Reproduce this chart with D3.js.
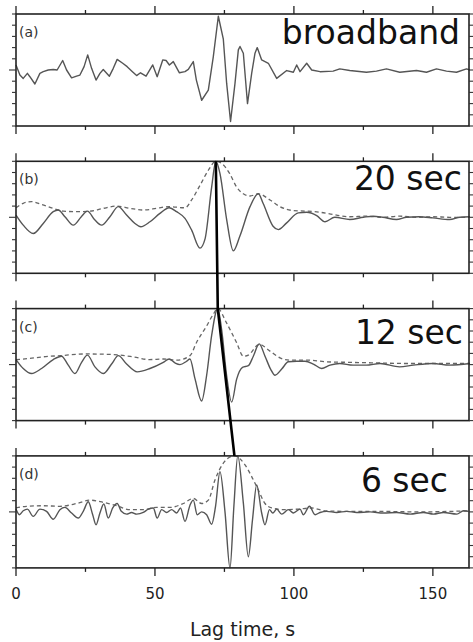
<!DOCTYPE html>
<html>
<head>
<meta charset="utf-8">
<script src="https://cdn.jsdelivr.net/npm/d3@7"></script>
<style>
  body { margin: 0; background: #fff; }
  text { font-family: 'DejaVu Sans', sans-serif; }
</style>
</head>
<body>
<svg class="chart"></svg>
<script>
// lag time (s), normalised amplitude
const broadband = [
  [0, 0.09], [1.4, -0.09], [2.6, -0.15], [4.1, -0.06], [5, -0.12], [6.8, -0.25], [8.6, -0.06],
  [9.8, -0.03], [11.6, 0], [13.4, 0.01], [14.8, 0], [16.8, 0.17], [18.2, 0], [20, -0.14],
  [21.8, -0.11], [23, -0.09], [24.5, 0.06], [25.8, 0.27], [27.2, 0.03], [28.8, -0.18],
  [30.2, -0.06], [31.4, 0.01], [33.6, -0.11], [35, 0.03], [36.4, 0.19], [38.4, 0.12],
  [40, 0.06], [41.9, -0.03], [43.4, -0.1], [44.8, -0.05], [46.8, -0.11], [49.2, 0.09],
  [50.8, -0.12], [52.8, 0.18], [54, 0.17], [55.2, 0.09], [56.6, 0.15], [58.8, -0.05],
  [60.8, -0.03], [62, 0.01], [63.8, 0.15], [64.9, -0.18], [66.8, -0.54], [69.2, -0.36],
  [71, 0.24], [72.8, 0.96], [74.6, 0.55], [75.8, -0.24], [77.2, -0.92], [78.8, -0.24],
  [80, 0.36], [80.6, 0.42], [81.8, 0.3], [82.7, -0.24], [83.3, -0.6], [84.8, -0.06],
  [86, 0.3], [86.8, 0.4], [88.4, 0.18], [90.8, 0.12], [93.8, -0.15], [97.4, -0.01],
  [99.8, -0.04], [101, 0.09], [102.2, -0.03], [104.6, 0.12], [106.4, 0], [109.4, -0.03],
  [114.1, -0.02], [116.5, 0.02], [120.1, -0.01], [126.1, -0.04], [129.7, -0.02],
  [133.3, 0.02], [138.1, -0.04], [144.1, -0.01], [147.7, -0.04], [151.3, 0.02],
  [154.9, -0.02], [158.5, -0.04], [162.1, 0.02], [163.3, 0]
];

const band20 = [
  [0, 0.04], [2.6, -0.14], [6.2, -0.29], [9.8, -0.11], [13.4, 0.1], [15.2, 0.13], [17.6, 0.01],
  [20.6, -0.14], [23.5, 0.01], [25.7, 0.11], [28.4, -0.05], [30.8, -0.14], [33.8, 0.01],
  [36.8, 0.19], [39.8, 0.04], [42.8, -0.11], [44.9, -0.17], [48.2, -0.08], [51.8, 0.07],
  [55.1, 0.17], [57.8, 0.1], [60.8, -0.02], [63.2, -0.23], [66.2, -0.55], [68, -0.39],
  [70.4, 0.54], [71.9, 1.0], [73.4, 0.78], [75.8, -0.04], [78.2, -0.6], [80.6, -0.33],
  [84.2, 0.19], [87.2, 0.42], [88.9, 0.25], [92.5, -0.16], [94.4, -0.22], [97.4, -0.1],
  [101.6, 0.08], [104.6, 0.09], [108.2, 0.03], [111.2, -0.08], [114.7, 0], [120.1, -0.04],
  [125, 0], [128.5, 0.02], [132, 0], [136.9, -0.04], [140.5, 0], [145, 0.01], [150, -0.01],
  [156, -0.04], [159.7, 0], [163.3, 0.01]
];
const env20 = [
  [0, 0.17], [2.6, 0.25], [5.6, 0.28], [9.2, 0.23], [13.4, 0.16], [17, 0.11], [21.8, 0.1],
  [26.6, 0.11], [31.4, 0.16], [36.2, 0.2], [41, 0.16], [45.8, 0.13], [50.6, 0.16],
  [54.8, 0.19], [60.8, 0.17], [63.2, 0.31], [66.2, 0.57], [69.2, 0.84], [71.9, 1.0],
  [74.3, 0.95], [76.9, 0.78], [79.4, 0.54], [81.8, 0.42], [84.2, 0.38], [87.2, 0.42],
  [91.4, 0.31], [95, 0.19], [99.8, 0.12], [104.6, 0.11], [109.4, 0.09], [114.1, 0.05],
  [120.1, 0.01], [126, 0.02], [132, 0], [138, 0.02], [144, 0], [150, 0.01], [156, 0],
  [163.3, 0]
];

const band12 = [
  [0, 0.09], [2.6, -0.07], [5.6, -0.16], [9.2, -0.07], [13.4, 0.09], [16.4, 0.15], [18.8, -0.01],
  [21.2, -0.16], [23.6, 0.04], [25.7, 0.17], [28.4, -0.04], [31.4, -0.16], [34.4, 0.01],
  [36.8, 0.16], [39.8, 0.01], [43.6, -0.13], [48.2, -0.07], [53, 0.04], [55.1, 0.1],
  [57.2, 0.03], [59, 0], [61.4, 0.06], [62.6, 0.1], [64.4, -0.25], [66.8, -0.65],
  [68.6, -0.19], [70.4, 0.52], [72.6, 1.0], [74, 0.62], [75.8, -0.2], [77.6, -0.67],
  [79.4, -0.26], [81.5, -0.05], [83.6, -0.02], [85.4, 0.15], [87.5, 0.37], [89.6, 0.15],
  [91.6, -0.08], [93.2, -0.19], [95.6, -0.08], [98, 0.05], [101, 0.06], [104, 0.06],
  [107, 0.01], [110, -0.07], [113, -0.01], [116.5, 0.02], [121.3, -0.01], [126, -0.01],
  [131, 0.02], [138, -0.04], [143, -0.01], [150, 0.02], [156, -0.01], [163.3, 0.02]
];
const env12 = [
  [0, 0.09], [5, 0.11], [10, 0.14], [16, 0.16], [25, 0.19], [35, 0.18], [42, 0.14], [48, 0.09],
  [53, 0.1], [58, 0.08], [62.6, 0.16], [65, 0.4], [68.6, 0.69], [71, 0.9], [72.6, 1.0],
  [75.8, 0.74], [79.4, 0.39], [81.8, 0.15], [83.6, 0.17], [87.5, 0.36], [91.4, 0.24],
  [95, 0.12], [98.6, 0.08], [104.6, 0.08], [111.8, 0.05], [120, 0.04], [130, 0.03],
  [140, 0.02], [150, 0.02], [163.3, 0.02]
];

const band6 = [
  [0, 0.05], [1.2, -0.05], [2.6, 0.02], [4.1, 0.05], [6.2, -0.08], [8.6, 0.05], [11, 0.01],
  [13.4, -0.13], [15.8, 0.04], [17.6, 0.08], [20, -0.02], [22.4, -0.11], [24.2, 0.01],
  [26, 0.18], [27.6, -0.05], [28.8, -0.23], [30.2, -0.02], [31.6, 0.14], [33.2, -0.11],
  [34.8, 0.07], [36.4, 0.15], [37.9, 0.01], [39.8, -0.04], [41.6, -0.01], [43.4, -0.04],
  [45.8, -0.01], [47.6, 0.05], [49.4, 0.07], [50.8, -0.11], [52.4, 0.04], [54.2, -0.01],
  [56, 0.04], [57.8, -0.02], [59.2, 0.07], [60.8, -0.17], [62.6, 0.12], [63.8, 0.21],
  [65.2, -0.05], [66.8, 0.0], [68.6, -0.05], [70.4, -0.22], [71.8, 0.1], [73.4, 0.72],
  [75.2, 0], [77, -1.0], [78.4, 0.1], [79.8, 1.0], [81.8, 0.16], [83.6, -0.8], [85.1, -0.14],
  [86.6, 0.48], [88.4, -0.02], [89.6, -0.23], [91.2, 0.04], [92.4, -0.02], [93.8, 0.05],
  [95.6, -0.04], [98, 0.04], [99.8, -0.02], [102.2, 0.05], [103.4, -0.05], [105.6, 0.1],
  [107.6, -0.05], [109.4, -0.01], [111.8, 0.01], [115.4, -0.01], [119, 0.01],
  [122.6, -0.01], [127.4, 0], [132.2, -0.02], [137, -0.01], [141.8, -0.04], [146.6, -0.01],
  [150.2, -0.04], [153.8, -0.01], [158.6, -0.04], [161, 0.02], [162.8, 0.01]
];
const env6 = [
  [0, 0.07], [3.8, 0.1], [9.8, 0.11], [15.8, 0.1], [21.8, 0.15], [26.6, 0.21], [31.4, 0.17],
  [36.2, 0.11], [41, 0.04], [45.8, 0.04], [50.6, 0.08], [55.4, 0.08], [60.2, 0.15],
  [63.8, 0.24], [66.8, 0.15], [69.2, 0.21], [71.6, 0.57], [74.6, 0.87], [77, 0.98],
  [78.6, 1.0], [82.4, 0.84], [84.8, 0.63], [87.2, 0.39], [89.6, 0.15], [92, 0.07],
  [96.8, 0.04], [101.6, 0.05], [106.4, 0.07], [111.2, 0.02], [118.4, 0.01], [130, 0.01],
  [145, 0], [163.3, 0.02]
];

const panelLetters = ['(a)', '(b)', '(c)', '(d)'];
const bandNames = ['broadband', '20 sec', '12 sec', '6 sec'];
const traces = [broadband, band20, band12, band6];
const envelopes = [null, env20, env12, env6];
// group arrival picks for panels b, c, d
const pickTimes = [71.9, 72.6, 78.6];
const xTicks = [0, 50, 100, 150];
const xMinorTicks = [25, 75, 125];
const yTicks = [-1, -0.8, -0.6, -0.4, -0.2, 0, 0.2, 0.4, 0.6, 0.8, 1];

const width = 473, height = 642;
const left = 16, right = 469;
const panelTop = i => 14 + i * 147.3;
const panelH = 112;
// label nudges per panel: [dx, dy] of the band name
const nameOffset = [[460, 30], [462, 29], [463, 35], [448, 36]];

const svg = d3.select('.chart')
  .attr('width', width)
  .attr('height', height);

const x = d3.scaleLinear()
  .domain([0, 163])
  .range([left, right]);

const yScales = traces.map((t, i) => {
  return d3.scaleLinear()
    .domain([-1, 1])
    .range([panelTop(i) + panelH, panelTop(i)]);
});

traces.forEach((trace, i) => {
  const y = yScales[i];
  const g = svg.append('g');

  const line = d3.line()
    .x(d => x(d[0]))
    .y(d => y(d[1]))
    .curve(i === 0 ? d3.curveLinear : d3.curveMonotoneX);

  if (envelopes[i]) {
    g.append('path')
      .datum(envelopes[i])
      .attr('d', line)
      .attr('fill', 'none')
      .attr('stroke', '#666')
      .attr('stroke-width', 1.3)
      .attr('stroke-dasharray', '4,3');
  }

  g.append('path')
    .datum(trace)
    .attr('d', line)
    .attr('fill', 'none')
    .attr('stroke', '#555')
    .attr('stroke-width', 1.4)
    .attr('stroke-linejoin', 'round');

  // frame
  g.append('rect')
    .attr('x', left)
    .attr('y', panelTop(i))
    .attr('width', right - left)
    .attr('height', panelH)
    .attr('fill', 'none')
    .attr('stroke', '#222')
    .attr('stroke-width', 1.6);

  // x ticks, top and bottom, pointing outward
  const xAll = xTicks.map(v => [v, 8]).concat(xMinorTicks.map(v => [v, 4]));
  g.selectAll('.xt-top')
    .data(xAll)
    .enter().append('line')
    .attr('x1', d => x(d[0])).attr('x2', d => x(d[0]))
    .attr('y1', panelTop(i)).attr('y2', d => panelTop(i) - d[1])
    .attr('stroke', '#222').attr('stroke-width', 1.3);
  g.selectAll('.xt-bot')
    .data(xAll)
    .enter().append('line')
    .attr('x1', d => x(d[0])).attr('x2', d => x(d[0]))
    .attr('y1', panelTop(i) + panelH).attr('y2', d => panelTop(i) + panelH + d[1])
    .attr('stroke', '#222').attr('stroke-width', 1.3);

  // y ticks on both sides
  g.selectAll('.yt-left')
    .data(yTicks)
    .enter().append('line')
    .attr('x1', left).attr('x2', d => left - (d === 0 ? 7 : 4))
    .attr('y1', d => y(d)).attr('y2', d => y(d))
    .attr('stroke', '#333').attr('stroke-width', 1.1);
  g.selectAll('.yt-right')
    .data(yTicks)
    .enter().append('line')
    .attr('x1', right).attr('x2', d => right + (d === 0 ? 7 : 4))
    .attr('y1', d => y(d)).attr('y2', d => y(d))
    .attr('stroke', '#333').attr('stroke-width', 1.1);

  g.append('text')
    .attr('x', left + 3)
    .attr('y', panelTop(i) + 23)
    .style('font-size', '14px')
    .style('fill', '#333')
    .text(panelLetters[i]);

  g.append('text')
    .attr('x', nameOffset[i][0])
    .attr('y', panelTop(i) + nameOffset[i][1])
    .style('font-size', '33px')
    .style('text-anchor', 'end')
    .style('fill', '#111')
    .text(bandNames[i]);
});

// x tick labels under the last panel
const lastBottom = panelTop(3) + panelH;
svg.selectAll('.xlabel')
  .data(xTicks)
  .enter().append('text')
  .attr('x', d => x(d))
  .attr('y', lastBottom + 31)
  .style('font-size', '15px')
  .style('text-anchor', 'middle')
  .style('fill', '#222')
  .text(d => d);

svg.append('text')
  .attr('x', (left + right) / 2)
  .attr('y', lastBottom + 68)
  .style('font-size', '19px')
  .style('text-anchor', 'middle')
  .style('fill', '#222')
  .text('Lag time, s');

// pick line joining the envelope maxima of the filtered bands
const pickPoints = pickTimes.map((t, j) => [x(t), yScales[j + 1](1)]);
svg.append('path')
  .datum(pickPoints)
  .attr('d', d3.line())
  .attr('fill', 'none')
  .attr('stroke', '#000')
  .attr('stroke-width', 2.6);
</script>
</body>
</html>
